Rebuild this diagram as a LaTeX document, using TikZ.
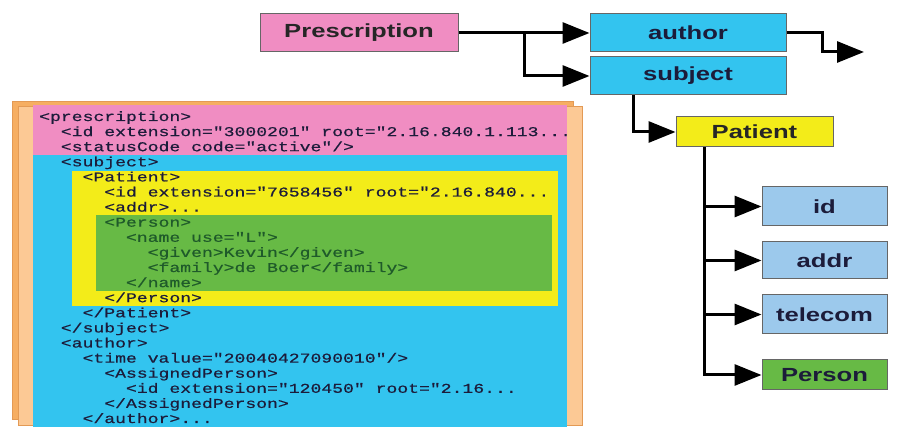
\documentclass[tikz,border=0pt]{standalone}
\usepackage{fontspec}
\setmainfont{Liberation Sans}
\newfontfamily\codefont[FakeStretch=1.34,FakeBold=0.6]{Liberation Mono}
\newfontfamily\boxfont[FakeStretch=1.35]{Liberation Sans}
\usetikzlibrary{arrows.meta}

\definecolor{prespink}{HTML}{F08DC2}
\definecolor{elemblue}{HTML}{33C4EF}
\definecolor{patyellow}{HTML}{F3EC19}
\definecolor{persgreen}{HTML}{67BA45}
\definecolor{attrblue}{HTML}{9CC9EC}
\definecolor{pageorange}{HTML}{F6AE62}
\definecolor{pagepeach}{HTML}{FCC995}
\definecolor{pageedge}{HTML}{E39A55}
\definecolor{codeink}{HTML}{1C1C3A}
\definecolor{greenink}{HTML}{1F5A2A}

\begin{document}
\begin{tikzpicture}
        [
            x=1pt, y=-1pt,
            box/.style={rectangle, draw=black!60, line width=1pt, inner sep=0pt, text=codeink,
                font=\boxfont\bfseries\fontsize{19}{22}\selectfont},
            big/.style={box, minimum width=196pt, minimum height=38pt},
            leaf/.style={box, minimum width=125pt, minimum height=38pt},
            code/.style={anchor=base west, inner sep=0pt, text=codeink,
                font=\codefont\fontsize{13.5}{15}\selectfont},
            arr/.style={line width=3pt, -{Triangle[length=27pt,width=21pt]}},
        ]
        \useasboundingbox (0,0) rectangle (908,427);
        % the document pages
        \filldraw[fill=pageorange, draw=pageedge] (12,101) rectangle (573,419);
        \filldraw[fill=pagepeach, draw=pageedge] (18,106) rectangle (582,425);
        \fill[prespink] (33,105) rectangle (567,155);
        \fill[elemblue] (33,155) rectangle (567,427);
        \fill[patyellow] (72,171) rectangle (558,306);
        \fill[persgreen] (96,215) rectangle (552,291);
        % the XML text
        \node[code] (c1) at (39,121) {<prescription>};
        \node[code] (c2) at (60.7,136.1) {<id extension="3000201" root="2.16.840.1.113...};
        \node[code] (c3) at (60.7,151.2) {<statusCode code="active"/>};
        \node[code] (c4) at (60.7,166.3) {<subject>};
        \node[code] (c5) at (82.4,181.4) {<Patient>};
        \node[code] (c6) at (104.1,196.5) {<id extension="7658456" root="2.16.840...};
        \node[code] (c7) at (104.1,211.6) {<addr>...};
        \node[code, text=greenink] (c8) at (104.1,226.7) {<Person>};
        \node[code, text=greenink] (c9) at (125.8,241.8) {<name use="L">};
        \node[code, text=greenink] (c10) at (147.5,256.9) {<given>Kevin</given>};
        \node[code, text=greenink] (c11) at (147.5,272) {<family>de Boer</family>};
        \node[code, text=greenink] (c12) at (125.8,287.1) {</name>};
        \node[code] (c13) at (104.1,302.2) {</Person>};
        \node[code] (c14) at (82.4,317.3) {</Patient>};
        \node[code] (c15) at (60.7,332.4) {</subject>};
        \node[code] (c16) at (60.7,347.5) {<author>};
        \node[code] (c17) at (82.4,362.6) {<time value="20040427090010"/>};
        \node[code] (c18) at (104.1,377.7) {<AssignedPerson>};
        \node[code] (c19) at (125.8,392.8) {<id extension="120450" root="2.16...};
        \node[code] (c20) at (104.1,407.9) {</AssignedPerson>};
        \node[code] (c21) at (82.4,423) {</author>...};
        % the tree
        \node[big, fill=prespink, minimum width=198pt, text=black!85] (pres) at (359,33) {Prescription};
        \node[big, fill=elemblue] (author) at (688,33) {author};
        \node[big, fill=elemblue] (subject) at (688,76) {subject};
        \node[box, fill=patyellow, minimum width=157pt, minimum height=30pt, text=black!85] (patient) at (754.5,132) {Patient};
        \node[leaf, fill=attrblue, minimum height=39pt] (id) at (824.5,206.5) {id};
        \node[leaf, fill=attrblue, minimum height=37pt] (addr) at (824.5,260.5) {addr};
        \node[leaf, fill=attrblue, minimum height=39pt] (telecom) at (824.5,314.5) {telecom};
        \node[leaf, fill=persgreen, minimum height=30pt] (person) at (824.5,375) {Person};
        \coordinate (split) at (524,33);
        \coordinate (more) at (864,52);
        \draw[arr] (pres) -- (author);
        \draw[arr] (split) |- (subject);
        \draw[arr] (author.east) -- ++(36,0) |- (more);
        \draw[arr] ([xshift=-55pt]subject.south) |- (patient);
        \foreach \leaf in {id,addr,telecom,person}
            \draw[arr] ([xshift=-50.5pt]patient.south) |- (\leaf);
      \end{tikzpicture}
\end{document}
